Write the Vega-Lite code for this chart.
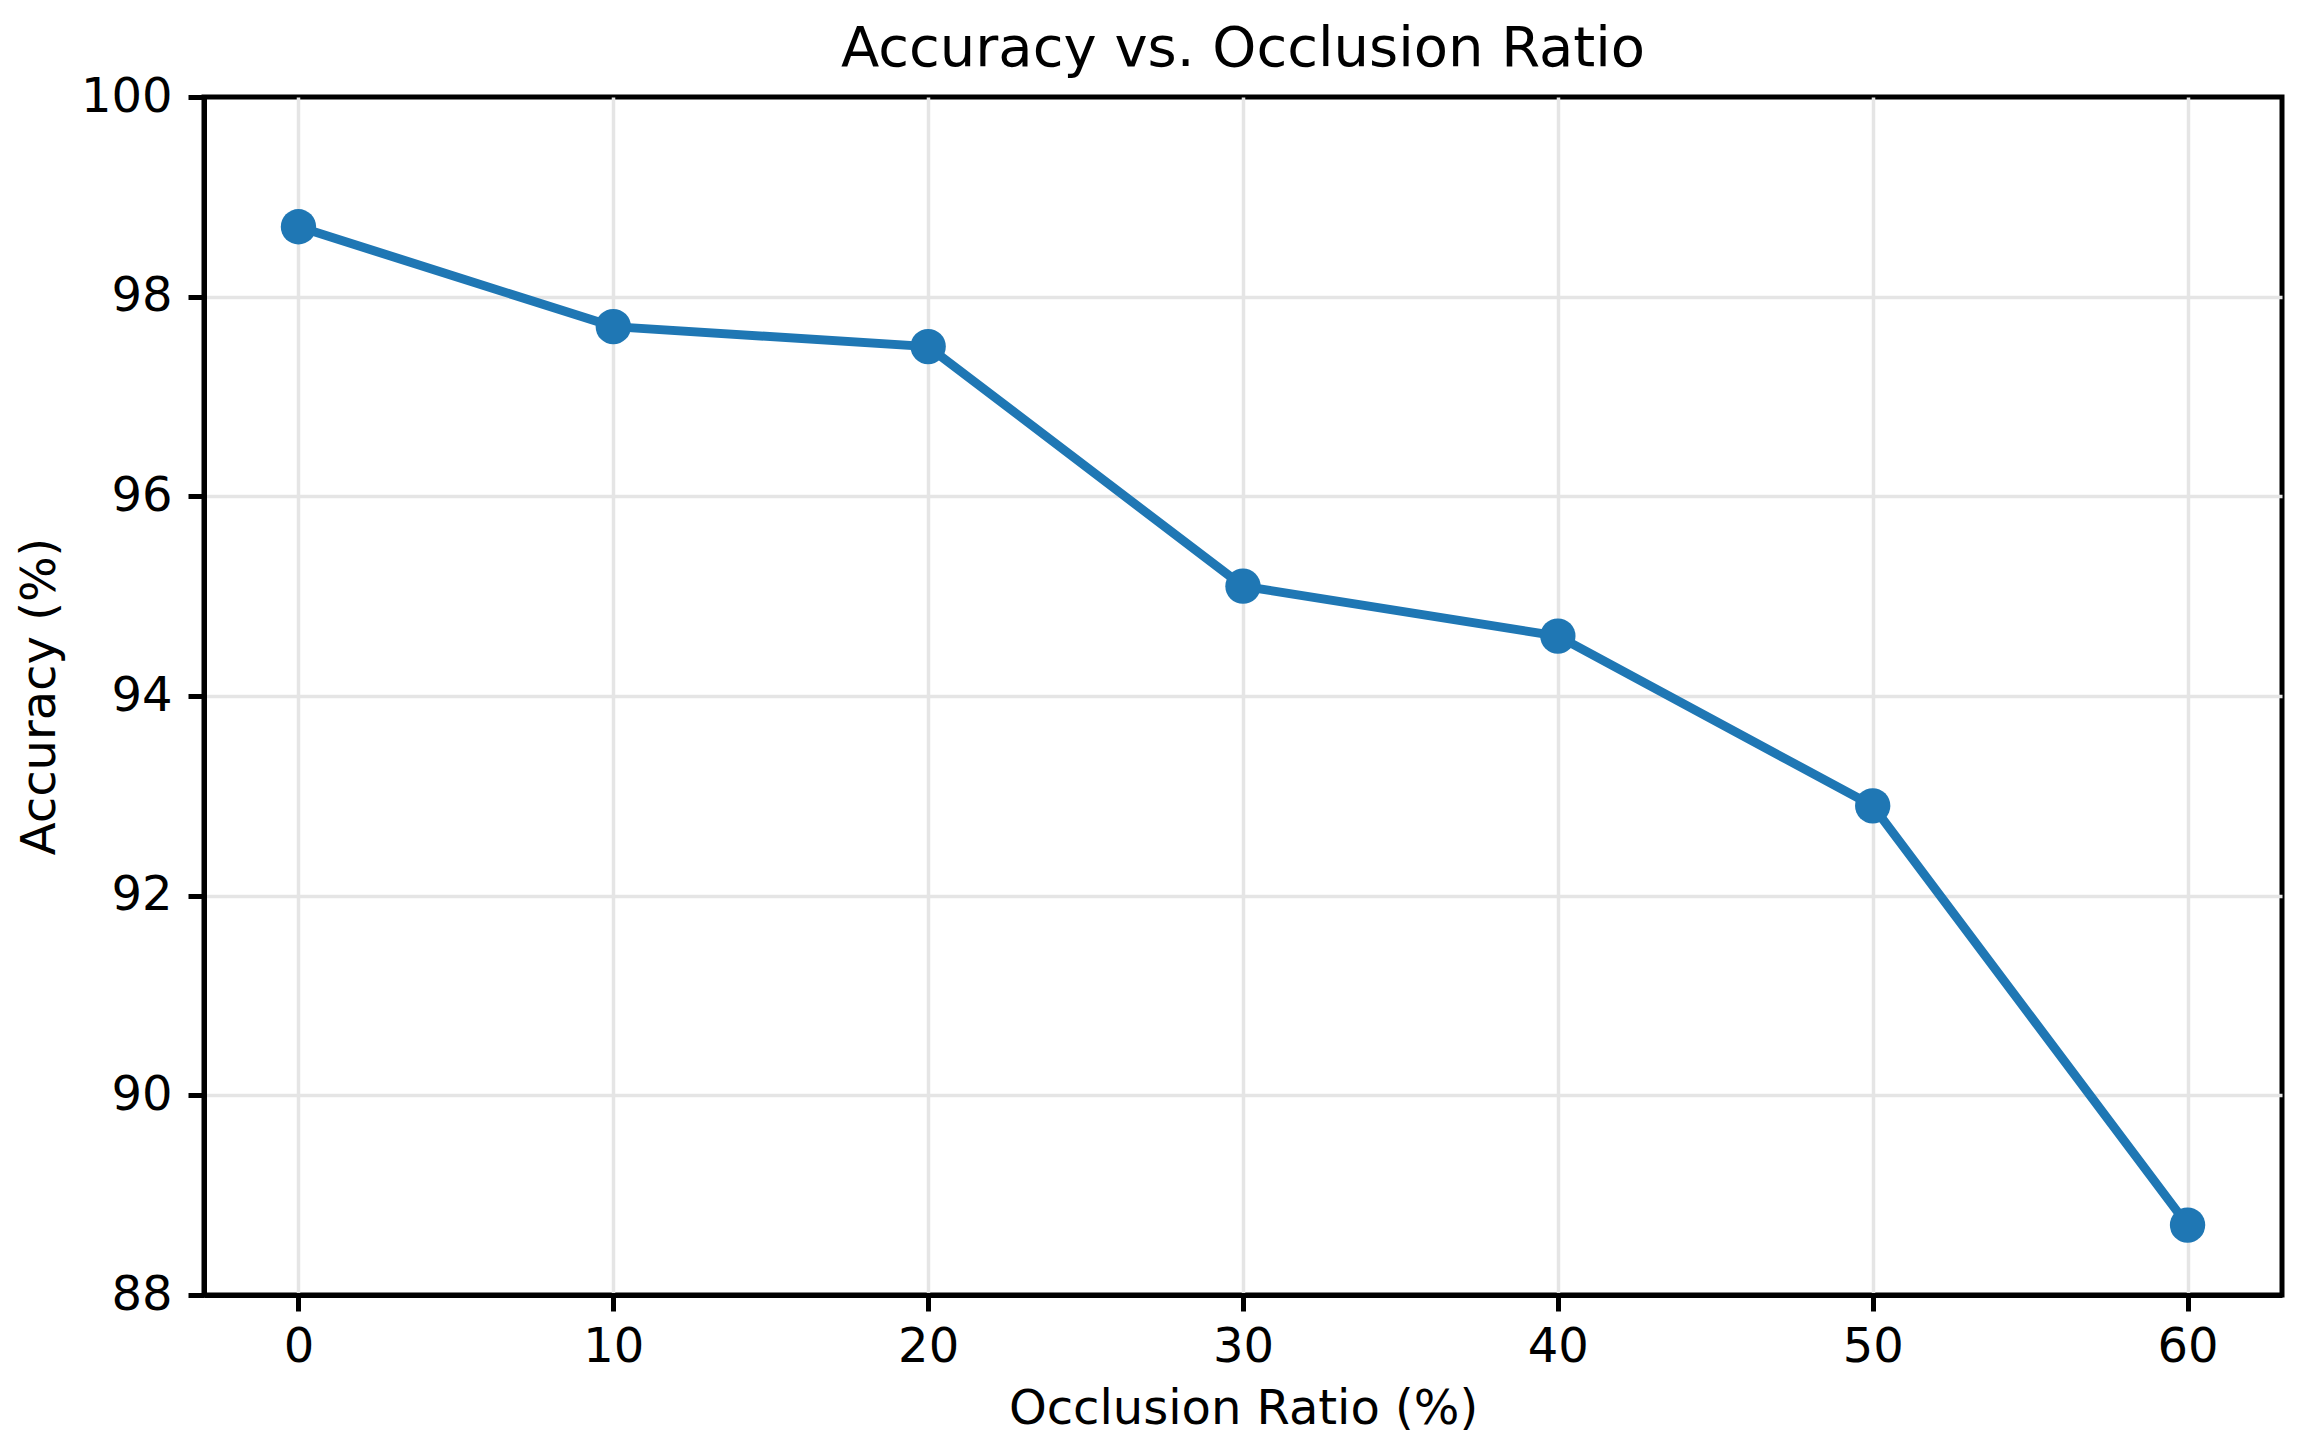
{
  "$schema": "https://vega.github.io/schema/vega-lite/v6.json",
  "width": 2078,
  "height": 1198,
  "autosize": {"type": "none"},
  "padding": {"left": 204, "top": 97, "right": 26, "bottom": 160},
  "background": "white",
  "title": {
    "text": "Accuracy vs. Occlusion Ratio",
    "font": "DejaVu Sans",
    "fontSize": 56,
    "fontWeight": "normal",
    "color": "black",
    "anchor": "middle",
    "baseline": "alphabetic",
    "offset": 13,
    "dy": 62
  },
  "data": {
    "values": [
      {"occlusion": 0, "accuracy": 98.7},
      {"occlusion": 10, "accuracy": 97.7},
      {"occlusion": 20, "accuracy": 97.5},
      {"occlusion": 30, "accuracy": 95.1},
      {"occlusion": 40, "accuracy": 94.6},
      {"occlusion": 50, "accuracy": 92.9},
      {"occlusion": 60, "accuracy": 88.7}
    ]
  },
  "encoding": {
    "x": {
      "field": "occlusion",
      "type": "quantitative",
      "scale": {"domain": [-3, 63], "nice": false, "zero": false},
      "axis": {"title": "Occlusion Ratio (%)", "values": [0, 10, 20, 30, 40, 50, 60], "titlePadding": 14, "labelPadding": 12}
    },
    "y": {
      "field": "accuracy",
      "type": "quantitative",
      "scale": {"domain": [88, 100], "nice": false, "zero": false},
      "axis": {
        "title": "Accuracy (%)",
        "values": [88, 90, 92, 94, 96, 98, 100],
        "titlePadding": 16,
        "labelPadding": 16,
        "gridOpacity": {"condition": {"test": "datum.value === 88 || datum.value === 100", "value": 0}, "value": 1}
      }
    }
  },
  "layer": [
    {"mark": {"type": "line", "color": "#1f77b4", "strokeWidth": 9}},
    {"mark": {"type": "point", "filled": true, "shape": "circle", "color": "#1f77b4", "opacity": 1, "size": 1250}}
  ],
  "config": {
    "view": {"stroke": "black", "strokeWidth": 5},
    "axis": {
      "domain": true,
      "domainColor": "black",
      "domainWidth": 5,
      "grid": true,
      "gridColor": "#e5e5e5",
      "gridWidth": 3.5,
      "ticks": true,
      "tickColor": "black",
      "tickWidth": 5,
      "tickSize": 16,
      "labelFont": "DejaVu Sans",
      "labelFontSize": 48,
      "labelColor": "black",
      "titleFont": "DejaVu Sans",
      "titleFontSize": 48,
      "titleFontWeight": "normal",
      "titleColor": "black",
      "labelFlush": false,
      "labelOverlap": false
    }
  }
}
